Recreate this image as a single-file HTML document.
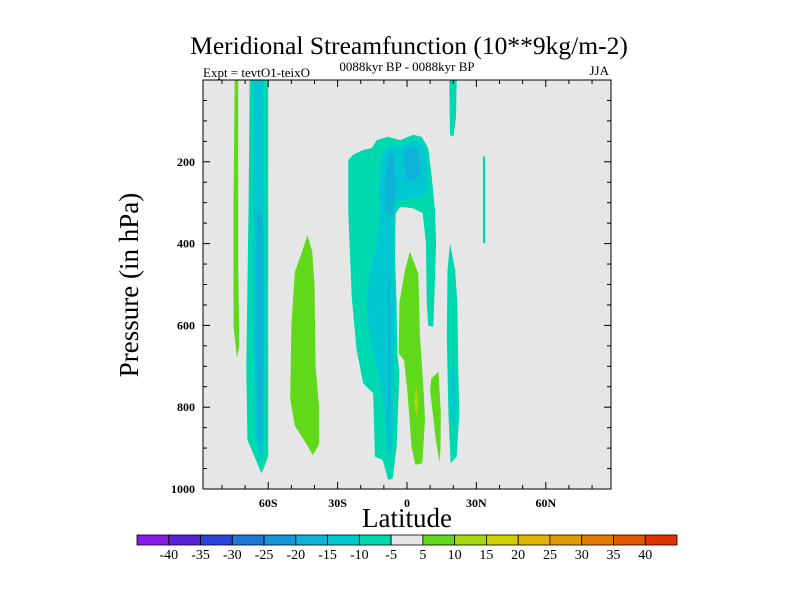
<!DOCTYPE html>
<html><head><meta charset="utf-8"><style>
html,body{margin:0;padding:0;background:#fff;}
svg{display:block;font-family:"Liberation Serif",serif;}
</style></head><body>
<svg id="chart" width="800" height="600">
<text x="409" y="54" font-size="25.5" text-anchor="middle">Meridional Streamfunction (10**9kg/m-2)</text>
<text x="203" y="77" font-size="13">Expt = tevtO1-teixO</text>
<text x="407" y="71" font-size="13" text-anchor="middle">0088kyr BP - 0088kyr BP</text>
<text x="609" y="75" font-size="13" text-anchor="end">JJA</text>
<rect x="203" y="80" width="408" height="409" fill="#e6e6e6"/>
<g id="shapes"></g>
<rect x="203" y="80" width="408" height="409" fill="none" stroke="#000" stroke-width="1"/>
<g id="ticks"></g>
<text x="138" y="285" font-size="27" text-anchor="middle" transform="rotate(-90 138 285)">Pressure (in hPa)</text>
<text x="407" y="527" font-size="27" text-anchor="middle">Latitude</text>
<g id="colorbar"></g>
</svg>
<script>
const levelLabels=[-40,-35,-30,-25,-20,-15,-10,-5,5,10,15,20,25,30,35,40];
const levelColors=["#8a1ae6","#5a22d8","#2a44dc","#1f78d8","#1696d6","#10b2d8","#00c8d0","#00d8b0","#e6e6e6","#5fd91a","#a6d80c","#cfd000","#e0b400","#e09a00","#e07a00","#e05800","#e03200"];
const latTicks=[-80,-70,-60,-50,-40,-30,-20,-10,0,10,20,30,40,50,60,70,80];
const latLabels={"-60":"60S","-30":"30S","0":"0","30":"30N","60":"60N"};
const presTicks=[50,100,150,200,250,300,350,400,450,500,550,600,650,700,750,800,850,900,950];
const presLabels=[200,400,600,800,1000];
// contour polygons: [lat, pressure] pairs, with fill level index
const polyLevels=[7,6,5,9,9,7,6,5,5,5,9,10,7,6,7,7,9];
const polyPoints=[
[[-68,0],[-60,0],[-60,700],[-60,920],[-62,950],[-63,962],[-64.5,940],[-69,880],[-69.5,700],[-68.5,300]],
[[-66.5,0],[-62,0],[-61.5,600],[-62,900],[-63.5,930],[-65.5,880],[-66.5,600]],
[[-65,320],[-62.5,330],[-62,700],[-62.5,880],[-64,890],[-65,700]],
[[-74.5,0],[-73,0],[-73,450],[-72.5,650],[-73.5,680],[-75,600],[-75,300]],
[[-43,380],[-41,420],[-40,500],[-39.5,700],[-38,800],[-38,890],[-40.7,917],[-44,885],[-48.5,845],[-50.5,780],[-50,600],[-48.5,470],[-46,430]],
[[-25.4,196],[-23.3,183],[-18.9,171],[-15.3,167],[-13.1,147],[-8.1,139],[-3,147],[2.7,134],[6.4,139],[9.2,167],[10.7,236],[12.1,318],[12.6,399],[11.4,603],[9.2,601],[8.5,546],[8.2,399],[6.8,326],[2.7,314],[-3,310],[-4.9,326],[-5.2,432],[-4.5,546],[-4.2,668],[-3.3,717],[-4.5,897],[-6.2,974],[-8.1,978],[-10.5,929],[-13.9,921],[-14.6,766],[-18.9,742],[-21.8,660],[-23.9,530],[-25.4,326]],
[[-11,187],[-7.4,159],[-3,163],[2.7,147],[6.4,151],[8.5,187],[9.2,277],[5.6,285],[-3,293],[-5.2,301],[-5.9,416],[-5.2,546],[-5.9,815],[-6.6,913],[-8.8,913],[-9.5,815],[-12.4,717],[-16,636],[-17.5,546],[-16,473],[-13.1,408],[-11.7,326],[-12.4,269]],
[[-8.1,179],[-5.9,183],[-4.8,269],[-6.2,326],[-8.6,326],[-9.7,269]],
[[-0.9,171],[2.7,163],[4.9,171],[5.6,220],[3.6,249],[0,245],[-1.3,212]],
[[-8.1,473],[-7.3,490],[-7.2,815],[-7.6,900],[-8.3,815],[-8.4,546]],
[[1.3,420],[4.9,473],[5.6,628],[7.1,750],[7.8,831],[6.6,937],[3.6,941],[2,897],[0,750],[-1.3,685],[-3.6,668],[-3.3,546],[-0.9,465]],
[[3.9,746],[4.9,790],[4.2,823],[3.2,790]],
[[18.6,399],[20.8,465],[21.8,546],[22.2,709],[22.6,815],[21.5,921],[18.9,937],[17.9,815],[17.2,628],[17.5,465]],
[[18.6,709],[20.1,690],[21.2,750],[20.4,856],[18.9,815]],
[[18.3,0],[21.5,0],[21.2,90],[20.1,139],[18.6,134]],
[[32.8,187],[33.8,187],[33.8,399],[32.8,399]],
[[13.6,713],[14.6,815],[14.5,900],[14,936],[12.5,880],[10,760],[10.5,730]]
];
const NS="http://www.w3.org/2000/svg";
const X0=203,X1=611,Y0=80,Y1=489,LATMIN=-88.2,LATMAX=88.2,PMIN=0,PMAX=1000;
function xs(lat){return X0+(lat-LATMIN)/(LATMAX-LATMIN)*(X1-X0);}
function ys(p){return Y0+(p-PMIN)/(PMAX-PMIN)*(Y1-Y0);}
function mk(tag,attrs,parent){const e=document.createElementNS(NS,tag);for(const k in attrs)e.setAttribute(k,attrs[k]);parent.appendChild(e);return e;}
const gS=document.getElementById('shapes');
polyPoints.forEach((pts,i)=>{
 const e=mk('polygon',{points:pts.map(q=>xs(q[0]).toFixed(1)+','+ys(q[1]).toFixed(1)).join(' '),fill:levelColors[polyLevels[i]]},gS);
 
 
});
const gT=document.getElementById('ticks');
latTicks.forEach(l=>{
 const x=xs(l);const major=(l in latLabels);const len=major?7:4;
 let t=mk('line',{x1:x,x2:x,y1:Y1,y2:Y1-len,stroke:'#000'},gT);
 
 
 t=mk('line',{x1:x,x2:x,y1:Y0,y2:Y0+len,stroke:'#000'},gT);
 
 
 if(major){const tx=mk('text',{x:x,y:507,'font-size':12,'font-weight':'bold','text-anchor':'middle'},gT);tx.textContent=latLabels[l];
  
  }
});
presTicks.forEach(p=>{
 const y=ys(p);const major=presLabels.includes(p);const len=major?7:4;
 let t=mk('line',{x1:X0,x2:X0+len,y1:y,y2:y,stroke:'#000'},gT);
 
 
 t=mk('line',{x1:X1,x2:X1-len,y1:y,y2:y,stroke:'#000'},gT);
 
 
});
presLabels.forEach(p=>{
 const tx=mk('text',{x:195,y:ys(p)+4,'font-size':12,'font-weight':'bold','text-anchor':'end'},gT);tx.textContent=p;
 
 
});
const gC=document.getElementById('colorbar');
const CB0=137,CB1=677,n=levelColors.length,w=(CB1-CB0)/n;
levelColors.forEach((c,i)=>{
 const r=mk('rect',{x:CB0+i*w,y:535,width:w,height:10,fill:c,stroke:'#000','stroke-width':0.8},gC);
 
 
});
levelLabels.forEach((v,i)=>{
 const tx=mk('text',{x:CB0+(i+1)*w,y:559,'font-size':14,'text-anchor':'middle'},gC);tx.textContent=v;
 
 
});
</script>
</body></html>
